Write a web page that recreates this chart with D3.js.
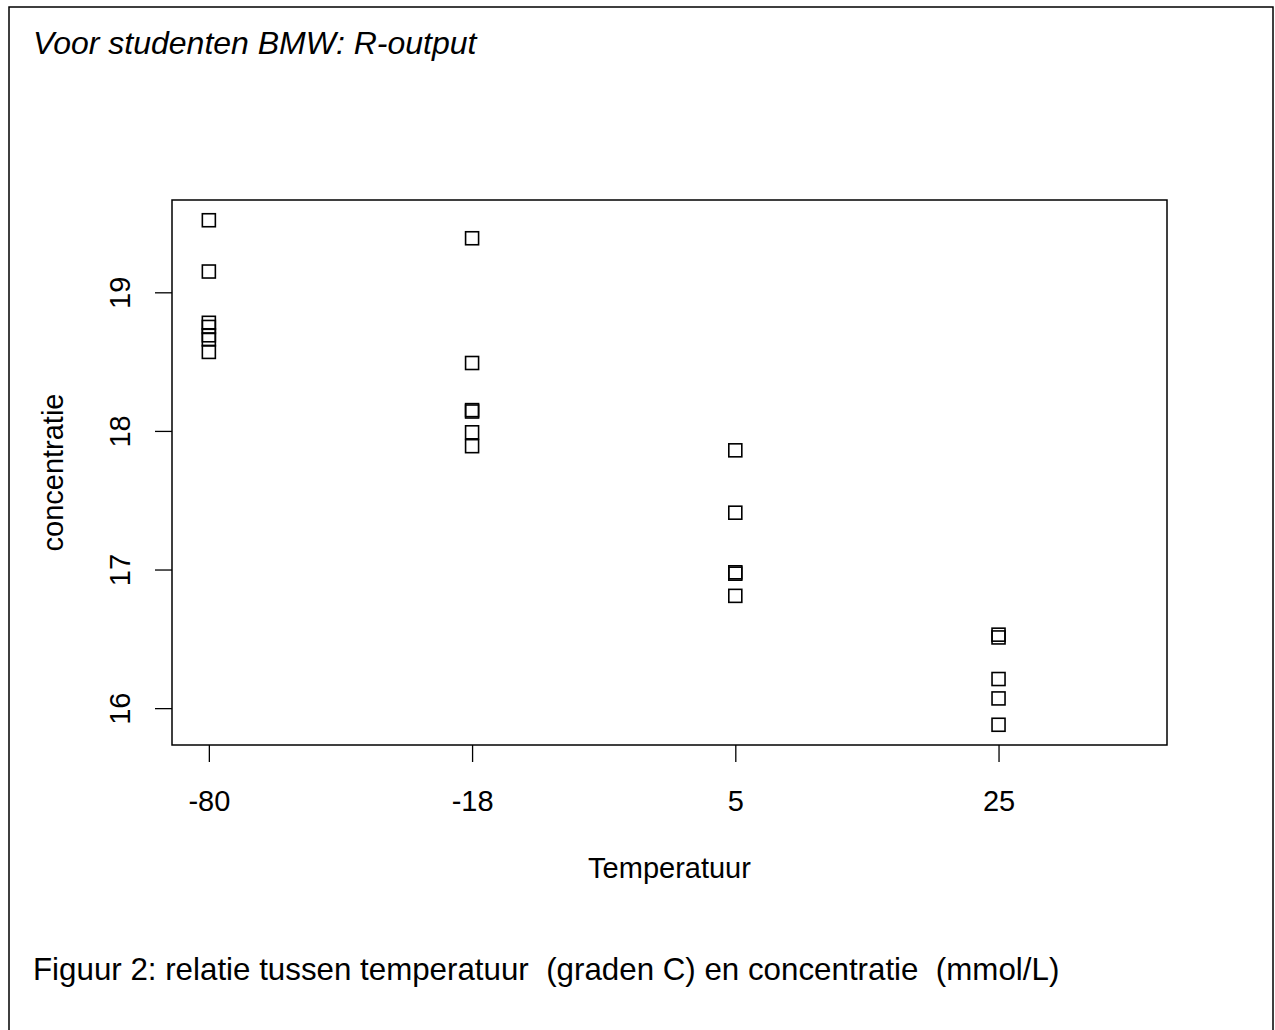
<!DOCTYPE html>
<html>
<head>
<meta charset="utf-8">
<script src="https://cdn.jsdelivr.net/npm/d3@7"></script>
<style>
  body { margin: 0; background: #fff; }
  svg { display: block; }
  text { font-family: "Liberation Sans", Arial, sans-serif; fill: #000; }
</style>
</head>
<body>
<svg id="chart" width="1275" height="1030"></svg>
<script>
// categories on the x axis (R plots them at 1..4)
var temperaturen = ["-80", "-18", "5", "25"];
// concentratie per temperatuur
var conc_min80 = [19.52, 19.15, 18.78, 18.75, 18.69, 18.66, 18.57];
var conc_min18 = [19.39, 18.49, 18.15, 18.14, 17.99, 17.89];
var conc_5 = [17.86, 17.41, 16.98, 16.97, 16.81];
var conc_25 = [16.53, 16.51, 16.21, 16.07, 15.88];
var yTicks = [16, 17, 18, 19];

var groups = [conc_min80, conc_min18, conc_5, conc_25];
var points = [];
groups.forEach(function(g, i) {
    g.forEach(function(v) { points.push({x: i + 1, y: v}); });
});

var svg = d3.select('#chart');

// plot box (don't call it "top", that's window.top)
var boxL = 172, boxR = 1167, boxT = 200, boxB = 745;

var x = d3.scaleLinear().domain([0.86, 4.64]).range([boxL, boxR]);
var y = d3.scaleLinear().domain([15.734, 19.666]).range([boxB, boxT]);

// outer frame round the whole figure
svg.append('rect')
    .attr('x', 9).attr('y', 7)
    .attr('width', 1264).attr('height', 1040)
    .attr('fill', 'none').attr('stroke', '#000').attr('stroke-width', 1.5);

svg.append('text')
    .attr('x', 33).attr('y', 54)
    .attr('font-size', 32).attr('font-style', 'italic')
    .text('Voor studenten BMW: R-output');

// x axis
var xAxis = svg.append('g')
    .attr('transform', 'translate(0,' + boxB + ')')
    .call(d3.axisBottom(x)
        .tickValues([1, 2, 3, 4])
        .tickFormat(function(d) { return temperaturen[d - 1]; })
        .tickSize(17).tickPadding(0));
xAxis.select('.domain').remove();
xAxis.selectAll('line').attr('stroke', '#000').attr('stroke-width', 1.3);
xAxis.selectAll('text')
    .attr('font-size', 29).attr('dy', null).attr('y', 66)
    .style('font-family', '"Liberation Sans", Arial, sans-serif');

// y axis, labels turned like R does (las = 0)
var yAxis = svg.append('g')
    .attr('transform', 'translate(' + boxL + ',0)')
    .call(d3.axisLeft(y).tickValues(yTicks).tickFormat(d3.format('d'))
        .tickSize(17).tickPadding(0));
yAxis.select('.domain').remove();
yAxis.selectAll('line').attr('stroke', '#000').attr('stroke-width', 1.3);
yAxis.selectAll('text')
    .attr('font-size', 29)
    .attr('x', null).attr('dy', null)
    .attr('text-anchor', 'middle')
    .attr('transform', 'translate(-42,0) rotate(-90)')
    .style('font-family', '"Liberation Sans", Arial, sans-serif');

// box
svg.append('rect')
    .attr('x', boxL).attr('y', boxT)
    .attr('width', boxR - boxL).attr('height', boxB - boxT)
    .attr('fill', 'none').attr('stroke', '#000').attr('stroke-width', 1.5);

// open squares (pch = 0)
var s = 13;
svg.append('g').selectAll('rect')
    .data(points)
    .join('rect')
    .attr('x', function(d) { return x(d.x) - s / 2; })
    .attr('y', function(d) { return y(d.y) - s / 2; })
    .attr('width', s).attr('height', s)
    .attr('fill', 'none').attr('stroke', '#000').attr('stroke-width', 1.6);

// axis titles
svg.append('text')
    .attr('x', (boxL + boxR) / 2).attr('y', 878)
    .attr('text-anchor', 'middle').attr('font-size', 29)
    .text('Temperatuur');

svg.append('text')
    .attr('transform', 'translate(63,' + (boxT + boxB) / 2 + ') rotate(-90)')
    .attr('text-anchor', 'middle').attr('font-size', 29)
    .text('concentratie');

// caption
svg.append('text')
    .attr('x', 33).attr('y', 980)
    .attr('font-size', 31.3)
    .attr('xml:space', 'preserve')
    .style('white-space', 'pre')
    .text('Figuur 2: relatie tussen temperatuur  (graden C) en concentratie  (mmol/L)');
</script>
</body>
</html>
